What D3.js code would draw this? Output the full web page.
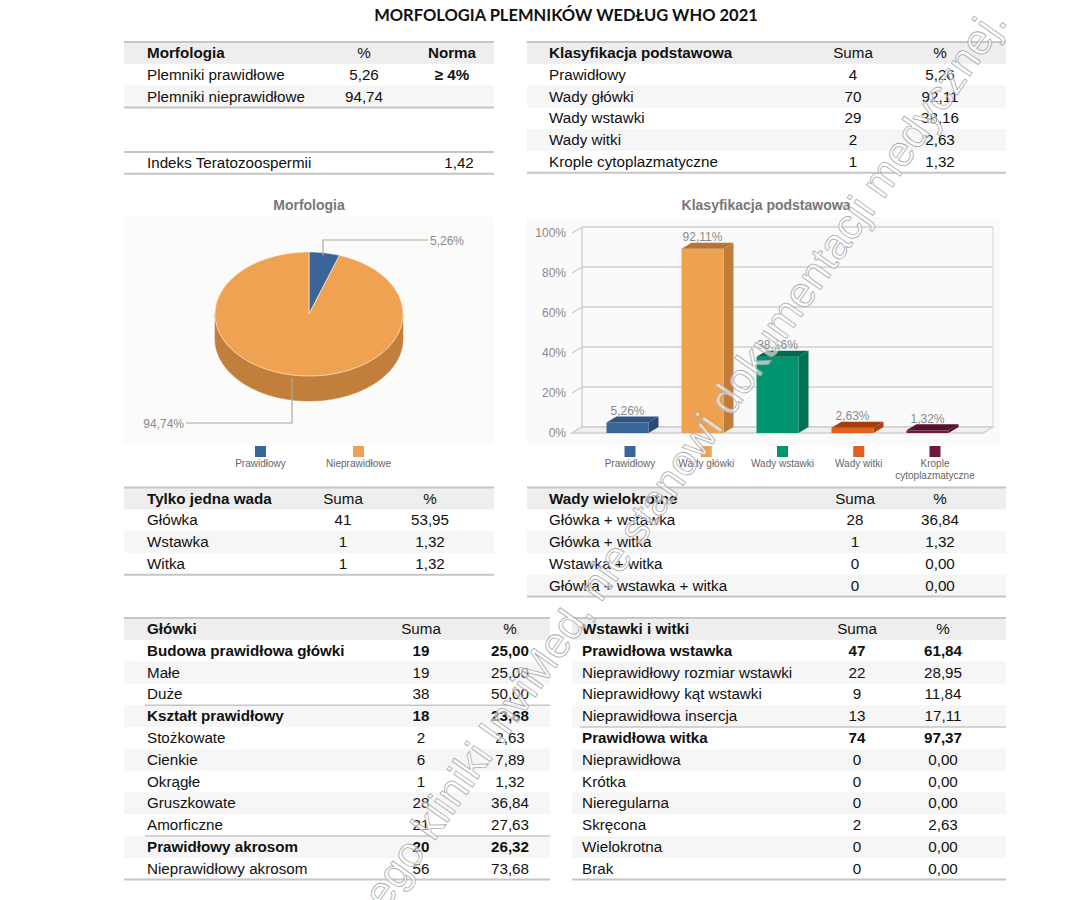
<!DOCTYPE html>
<html><head><meta charset="utf-8">
<script src="https://cdn.jsdelivr.net/npm/d3@7"></script>
<style>
body{margin:0;background:#fff}
svg{display:block}
text{font-family:"Liberation Sans",Arial,Helvetica,sans-serif}
</style>
</head><body>
<svg id="c" width="1079" height="900"></svg>
<script>
// ---------------- DATA ----------------
const titleText = "MORFOLOGIA PLEMNIKÓW WEDŁUG WHO 2021";

const morfHeader = ["Morfologia", "%", "Norma"];
const morfRows = [["Plemniki prawidłowe", "5,26", "≥ 4%"], ["Plemniki nieprawidłowe", "94,74", ""]];
const indeksRow = ["Indeks Teratozoospermii", "1,42"];

const klasHeader = ["Klasyfikacja podstawowa", "Suma", "%"];
const klasRows = [
  ["Prawidłowy", "4", "5,26"],
  ["Wady główki", "70", "92,11"],
  ["Wady wstawki", "29", "38,16"],
  ["Wady witki", "2", "2,63"],
  ["Krople cytoplazmatyczne", "1", "1,32"]
];

const jednaHeader = ["Tylko jedna wada", "Suma", "%"];
const jednaRows = [["Główka", "41", "53,95"], ["Wstawka", "1", "1,32"], ["Witka", "1", "1,32"]];

const wieloHeader = ["Wady wielokrotne", "Suma", "%"];
const wieloRows = [
  ["Główka + wstawka", "28", "36,84"],
  ["Główka + witka", "1", "1,32"],
  ["Wstawka + witka", "0", "0,00"],
  ["Główka + wstawka + witka", "0", "0,00"]
];

const glowkiHeader = ["Główki", "Suma", "%"];
const glowkiRows = [
  ["Budowa prawidłowa główki", "19", "25,00", true],
  ["Małe", "19", "25,00"],
  ["Duże", "38", "50,00"],
  ["Kształt prawidłowy", "18", "23,68", true],
  ["Stożkowate", "2", "2,63"],
  ["Cienkie", "6", "7,89"],
  ["Okrągłe", "1", "1,32"],
  ["Gruszkowate", "28", "36,84"],
  ["Amorficzne", "21", "27,63"],
  ["Prawidłowy akrosom", "20", "26,32", true],
  ["Nieprawidłowy akrosom", "56", "73,68"]
];
const glowkiSeps = [3, 9];

const wstawkiHeader = ["Wstawki i witki", "Suma", "%"];
const wstawkiRows = [
  ["Prawidłowa wstawka", "47", "61,84", true],
  ["Nieprawidłowy rozmiar wstawki", "22", "28,95"],
  ["Nieprawidłowy kąt wstawki", "9", "11,84"],
  ["Nieprawidłowa insercja", "13", "17,11"],
  ["Prawidłowa witka", "74", "97,37", true],
  ["Nieprawidłowa", "0", "0,00"],
  ["Krótka", "0", "0,00"],
  ["Nieregularna", "0", "0,00"],
  ["Skręcona", "2", "2,63"],
  ["Wielokrotna", "0", "0,00"],
  ["Brak", "0", "0,00"]
];
const wstawkiSeps = [4];

const pieTitle = "Morfologia";
const pieLabels = ["Prawidłowy", "Nieprawidłowe"];
const pieValues = [5.26, 94.74];
const pieValueLabels = ["5,26%", "94,74%"];

const barTitle = "Klasyfikacja podstawowa";
const barLabels = ["Prawidłowy", "Wady główki", "Wady wstawki", "Wady witki", "Krople cytoplazmatyczne"];
const barLegendLines = [["Prawidłowy"], ["Wady główki"], ["Wady wstawki"], ["Wady witki"], ["Krople", "cytoplazmatyczne"]];
const barValues = [5.26, 92.11, 38.16, 2.63, 1.32];
const barValueLabels = ["5,26%", "92,11%", "38,16%", "2,63%", "1,32%"];
const yTicks = [0, 20, 40, 60, 80, 100];

const watermarkText = "ego kliniki InviMed, nie stanowi dokumentacji medycznej.";

// ---------------- STYLE ----------------
const pieColors = [{top: "#3b6498", side: "#2c4b73"}, {top: "#efa252", side: "#c27f3c"}];
const barColors = [
  {front: "#3b6498", side: "#2a4a74", top: "#2f5282"},
  {front: "#eea250", side: "#c07c38", top: "#b57536"},
  {front: "#00946f", side: "#007152", top: "#006a4d"},
  {front: "#e2601e", side: "#aa4310", top: "#a33f0f"},
  {front: "#6e1a3d", side: "#4d0f29", top: "#531230"}
];
const lineCol = "#c6c6c6";
const textCol = "#111";
const RH = 21.8;
const FS = 15.2;

const svg = d3.select("#c");

// ---------------- TITLE ----------------
const t = svg.append("text").attr("x", 566).attr("y", 20.5).attr("text-anchor", "middle")
  .style("font-family", "Lato, 'Open Sans', sans-serif").style("font-weight", "bold")
  .style("font-size", "14px").attr("fill", "#111").text(titleText);
{
  const w = t.node().getComputedTextLength();
  t.style("font-size", (14 * 384 / w).toFixed(2) + "px");
}

// ---------------- TABLES ----------------
function table(cfg) {
  const {x0, x1, y0, textX, cols, header, rows, seps = [], lineX0 = x0} = cfg;
  const g = svg.append("g");
  const nHead = header ? 1 : 0;
  if (header) g.append("rect").attr("x", x0).attr("y", y0).attr("width", x1 - x0).attr("height", RH).attr("fill", "#eeeeee");
  rows.forEach((r, i) => {
    const top = y0 + RH * (i + nHead);
    if (i % 2 === 1) g.append("rect").attr("x", x0).attr("y", top).attr("width", x1 - x0).attr("height", RH).attr("fill", "#f6f6f6");
  });
  const all = header ? [[...header, true]].concat(rows) : rows;
  all.forEach((r, i) => {
    const top = y0 + RH * i;
    const isHead = header && i === 0;
    const bold = isHead ? true : !!r[3];
    const base = top + 16;
    g.append("text").attr("x", textX).attr("y", base).attr("fill", textCol)
      .style("font-size", FS + "px").style("font-weight", bold ? "bold" : "normal").text(r[0]);
    cols.forEach((cx, j) => {
      const v = r[j + 1];
      if (v === undefined || v === "" || v === true) return;
      const b = isHead ? (cfg.headBoldCols && cfg.headBoldCols.includes(j)) : (bold || (cfg.boldCols && cfg.boldCols.includes(j)));
      g.append("text").attr("x", cx).attr("y", base)
        .attr("text-anchor", "middle").attr("fill", textCol).style("font-size", FS + "px")
        .style("font-weight", b ? "bold" : "normal").text(v);
    });
  });
  seps.forEach(s => {
    const y = y0 + RH * (s + nHead);
    g.append("line").attr("x1", textX - 2).attr("x2", x1).attr("y1", y).attr("y2", y).attr("stroke", lineCol).attr("stroke-width", 1.6);
  });
  const yb = y0 + RH * all.length;
  g.append("line").attr("x1", x0).attr("x2", x1).attr("y1", y0).attr("y2", y0).attr("stroke", lineCol).attr("stroke-width", 2);
  g.append("line").attr("x1", lineX0).attr("x2", x1).attr("y1", yb).attr("y2", yb).attr("stroke", lineCol).attr("stroke-width", 2);
}

table({x0: 124, x1: 494, y0: 42, textX: 147, cols: [364, 452], header: morfHeader, rows: morfRows, headBoldCols: [1], boldCols: [1]});
table({x0: 124, x1: 494, y0: 152, textX: 147, cols: [459], header: null, rows: [indeksRow]});
table({x0: 527, x1: 1006, y0: 42, textX: 549, cols: [853, 940], header: klasHeader, rows: klasRows});
table({x0: 124, x1: 494, y0: 487.5, textX: 147, cols: [343, 430], header: jednaHeader, rows: jednaRows});
table({x0: 527, x1: 1006, y0: 487.5, textX: 549, cols: [855, 940], header: wieloHeader, rows: wieloRows});
table({x0: 124, x1: 550, y0: 618, textX: 147, cols: [421, 510], header: glowkiHeader, rows: glowkiRows, seps: glowkiSeps});
table({x0: 572, x1: 1006, y0: 618, textX: 582, cols: [857, 943], header: wstawkiHeader, rows: wstawkiRows, seps: wstawkiSeps});

// ---------------- PIE (3D) ----------------
const pg = svg.append("g");
pg.append("rect").attr("x", 124).attr("y", 217).attr("width", 370).attr("height", 228).attr("fill", "#fbfbfa");
pg.append("text").attr("x", 309).attr("y", 210).attr("text-anchor", "middle").attr("fill", "#777")
  .style("font-size", "14px").style("font-weight", "bold").text(pieTitle);

const P = {cx: 309, cy: 314, rx: 94, ry: 62, depth: 25};
const pie = d3.pie().sort(null).value(d => d)(pieValues);
const ePt = (a, dy = 0) => [P.cx + P.rx * Math.sin(a), P.cy - P.ry * Math.cos(a) + dy];
function arcPts(a0, a1, dy = 0) {
  const n = Math.max(2, Math.ceil((a1 - a0) / 0.02));
  return d3.range(n + 1).map(i => ePt(a0 + (a1 - a0) * i / n, dy));
}
pie.forEach((s, i) => {
  const a0 = Math.max(s.startAngle, Math.PI / 2), a1 = Math.min(s.endAngle, 3 * Math.PI / 2);
  if (a1 <= a0) return;
  const top = arcPts(a0, a1), bot = arcPts(a0, a1, P.depth).reverse();
  pg.append("path").attr("d", d3.line()(top.concat(bot)) + "Z").attr("fill", pieColors[i].side)
    .attr("stroke", pieColors[i].side).attr("stroke-width", 0.5);
});
pie.forEach((s, i) => {
  const pts = [[P.cx, P.cy]].concat(arcPts(s.startAngle, s.endAngle));
  pg.append("path").attr("d", d3.line()(pts) + "Z").attr("fill", pieColors[i].top)
    .attr("stroke", "#fff4e8").attr("stroke-width", 0.6);
});
const callout = [
  {pts: [[323, 255.5], [323, 240], [428, 240]], tx: 430, ty: 244.5, anchor: "start"},
  {pts: [[292, 378], [292, 423], [186, 423]], tx: 184, ty: 427.5, anchor: "end"}
];
pie.forEach((s, i) => {
  const c = callout[i];
  pg.append("path").attr("d", d3.line()(c.pts)).attr("fill", "none").attr("stroke", "#a8a8a8").attr("stroke-width", 1.2);
  pg.append("text").attr("x", c.tx).attr("y", c.ty).attr("text-anchor", c.anchor).attr("fill", "#8a8a8a")
    .style("font-size", "12px").text(pieValueLabels[i]);
});
const pl = d3.scalePoint().domain(pieLabels).range([260.5, 358.5]);
pieLabels.forEach((l, i) => {
  pg.append("rect").attr("x", pl(l) - 5.5).attr("y", 446).attr("width", 11).attr("height", 11).attr("fill", pieColors[i].top);
  pg.append("text").attr("x", pl(l)).attr("y", 467).attr("text-anchor", "middle").attr("fill", "#666")
    .style("font-size", "10px").text(l);
});

// ---------------- BAR (3D) ----------------
const bg = svg.append("g");
bg.append("rect").attr("x", 527).attr("y", 217).attr("width", 473).attr("height", 228).attr("fill", "#fafafa");
bg.append("text").attr("x", 766).attr("y", 210).attr("text-anchor", "middle").attr("fill", "#777")
  .style("font-size", "14px").style("font-weight", "bold").text(barTitle);

const DX = 10, DY = -6;
const yF = d3.scaleLinear().domain([0, 100]).range([433, 233]);
const wallL = 572, wallR = 983;
yTicks.forEach(v => {
  const y = yF(v);
  bg.append("line").attr("x1", wallL + DX).attr("x2", wallR + DX).attr("y1", y + DY).attr("y2", y + DY)
    .attr("stroke", "#cfcfcf").attr("stroke-width", 1.4);
  bg.append("line").attr("x1", wallL).attr("x2", wallL + DX).attr("y1", y).attr("y2", y + DY)
    .attr("stroke", "#cfcfcf").attr("stroke-width", 1.4);
  bg.append("text").attr("x", 566).attr("y", y + 4).attr("text-anchor", "end").attr("fill", "#8a8a8a")
    .style("font-size", "12px").text(v + "%");
});
bg.append("line").attr("x1", wallL + DX).attr("x2", wallL + DX).attr("y1", yF(100) + DY).attr("y2", yF(0) + DY)
  .attr("stroke", "#cfcfcf").attr("stroke-width", 1.4);
bg.append("line").attr("x1", wallR + DX).attr("x2", wallR + DX).attr("y1", yF(100) + DY).attr("y2", yF(0) + DY)
  .attr("stroke", "#dddddd").attr("stroke-width", 1.2);
bg.append("path").attr("d", d3.line()([[wallL, yF(0)], [wallL + DX, yF(0) + DY], [wallR + DX, yF(0) + DY], [wallR, yF(0)]]) + "Z")
  .attr("fill", "#f0f0f0").attr("stroke", "#cfcfcf").attr("stroke-width", 1.4);

const xb = d3.scaleBand().domain(barLabels).range([590, 965]).paddingInner(0.44).paddingOuter(0.22);
barValues.forEach((v, i) => {
  const x = xb(barLabels[i]), w = xb.bandwidth(), yt = yF(v), y0 = yF(0), c = barColors[i];
  bg.append("path").attr("d", d3.line()([[x + w, yt], [x + w + DX, yt + DY], [x + w + DX, y0 + DY], [x + w, y0]]) + "Z").attr("fill", c.side);
  bg.append("rect").attr("x", x).attr("y", yt).attr("width", w).attr("height", y0 - yt).attr("fill", c.front);
  bg.append("path").attr("d", d3.line()([[x, yt], [x + DX, yt + DY], [x + w + DX, yt + DY], [x + w, yt]]) + "Z").attr("fill", c.top);
  bg.append("text").attr("x", x + w / 2).attr("y", yt + DY - 1.5).attr("text-anchor", "middle").attr("fill", "#8a8a8a")
    .style("font-size", "12px").text(barValueLabels[i]);
});
const bl = d3.scalePoint().domain(barLabels).range([630, 935]);
barLabels.forEach((l, i) => {
  bg.append("rect").attr("x", bl(l) - 5.5).attr("y", 446).attr("width", 11).attr("height", 11).attr("fill", barColors[i].front);
  barLegendLines[i].forEach((ln, k) => {
    bg.append("text").attr("x", bl(l)).attr("y", 467 + k * 11.5).attr("text-anchor", "middle").attr("fill", "#666")
      .style("font-size", "10px").text(ln);
  });
});

// ---------------- WATERMARK ----------------
svg.append("text").attr("transform", "translate(1008,22) rotate(-55)").attr("text-anchor", "end")
  .style("font-size", "43px").attr("fill", "#ffffff").attr("fill-opacity", 0.6)
  .attr("stroke", "#aaaaaa").attr("stroke-width", 0.8).text(watermarkText);
</script>
</body></html>
